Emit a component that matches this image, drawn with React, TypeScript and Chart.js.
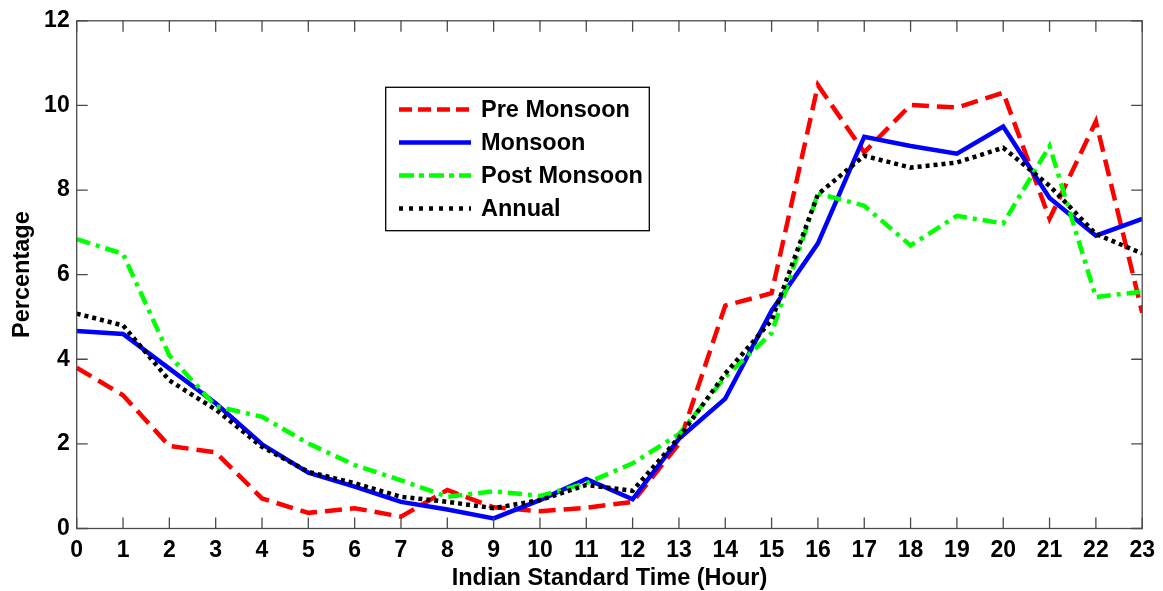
import React, { useEffect, useRef } from "react";
import { Chart, registerables } from "chart.js";

Chart.register(...registerables);

const hours = [0, 1, 2, 3, 4, 5, 6, 7, 8, 9, 10, 11, 12, 13, 14, 15, 16, 17, 18, 19, 20, 21, 22, 23];
const yTicks = [0, 2, 4, 6, 8, 10, 12];

const preMonsoon = [3.8, 3.15, 1.95, 1.8, 0.71, 0.37, 0.48, 0.28, 0.91, 0.5, 0.41, 0.49, 0.63, 2.0, 5.27, 5.56, 10.48, 8.89, 10.01, 9.95, 10.3, 7.32, 9.62, 5.1];
const monsoon = [4.67, 4.6, 3.78, 2.96, 1.99, 1.32, 0.99, 0.63, 0.45, 0.24, 0.67, 1.17, 0.69, 2.12, 3.07, 5.15, 6.74, 9.26, 9.04, 8.86, 9.5, 7.81, 6.92, 7.32];
const postMonsoon = [6.84, 6.49, 4.09, 2.89, 2.64, 2.01, 1.5, 1.14, 0.75, 0.88, 0.77, 1.07, 1.54, 2.23, 3.58, 4.62, 7.92, 7.63, 6.69, 7.39, 7.21, 9.04, 5.47, 5.6];
const annual = [5.08, 4.8, 3.5, 2.81, 1.93, 1.34, 1.07, 0.75, 0.63, 0.48, 0.67, 1.03, 0.89, 2.15, 3.66, 4.92, 7.9, 8.81, 8.53, 8.65, 9.0, 8.1, 6.96, 6.5];

const seriesNames = ["Pre Monsoon", "Monsoon", "Post Monsoon", "Annual"];
const seriesColors = ["#ff0000", "#0000ff", "#00ff00", "#000000"];
const seriesDash: number[][] = [[17, 8], [], [14, 6, 4, 6], [4, 4]];
const legendDash: number[][] = [[13, 6], [], [15, 5, 5, 5], [4, 6]];
const seriesWidth = [4.5, 4.5, 4.5, 4.5];

const FONT = "Arial, 'Liberation Sans', sans-serif";

const boxPlugin = {
  id: "boxAndLegend",
  afterDatasetsDraw(chart: any) {
    const { ctx, chartArea } = chart;
    const { left, right, top, bottom } = chartArea;
    const xs = chart.scales.x;
    const ys = chart.scales.y;
    ctx.save();
    ctx.strokeStyle = "#4a4a4a";
    ctx.lineWidth = 1.3;
    ctx.setLineDash([]);
    ctx.strokeRect(left, top, right - left, bottom - top);
    const tl = 11;
    ctx.beginPath();
    hours.forEach((h) => {
      const px = xs.getPixelForValue(h);
      ctx.moveTo(px, bottom);
      ctx.lineTo(px, bottom - tl);
      ctx.moveTo(px, top);
      ctx.lineTo(px, top + tl);
    });
    yTicks.forEach((v) => {
      const py = ys.getPixelForValue(v);
      ctx.moveTo(left, py);
      ctx.lineTo(left + tl, py);
      ctx.moveTo(right, py);
      ctx.lineTo(right - tl, py);
    });
    ctx.stroke();

    // legend
    const lx = 385.7, ly = 87.3, lw = 263.6, lh = 143.4;
    ctx.fillStyle = "#ffffff";
    ctx.fillRect(lx, ly, lw, lh);
    ctx.strokeStyle = "#000000";
    ctx.lineWidth = 1.3;
    ctx.strokeRect(lx, ly, lw, lh);
    ctx.font = `bold 23.5px ${FONT}`;
    ctx.textBaseline = "middle";
    ctx.textAlign = "left";
    seriesNames.forEach((name, i) => {
      const yy = 109.5 + i * 33;
      ctx.beginPath();
      ctx.strokeStyle = seriesColors[i];
      ctx.lineWidth = seriesWidth[i];
      ctx.setLineDash(legendDash[i]);
      ctx.moveTo(399, yy);
      ctx.lineTo(471, yy);
      ctx.stroke();
      ctx.setLineDash([]);
      ctx.fillStyle = "#000000";
      ctx.fillText(name, 481, yy + 1);
    });
    ctx.restore();
  },
};

export default function App() {
  const ref = useRef<HTMLCanvasElement>(null);

  useEffect(() => {
    document.body.style.margin = "0";
    const allSeries = [preMonsoon, monsoon, postMonsoon, annual];
    const chart = new Chart(ref.current as HTMLCanvasElement, {
      type: "line",
      data: {
        datasets: allSeries.map((vals, i) => ({
          label: seriesNames[i],
          data: hours.map((h, j) => ({ x: h, y: vals[j] })),
          borderColor: seriesColors[i],
          backgroundColor: seriesColors[i],
          borderWidth: seriesWidth[i],
          borderDash: seriesDash[i],
          borderCapStyle: "butt",
          borderJoinStyle: "miter",
          pointRadius: 0,
          tension: 0,
          fill: false,
          order: 4 - i,
        })),
      },
      options: {
        animation: false,
        responsive: false,
        maintainAspectRatio: false,
        layout: { padding: { top: 20, right: 20, left: 0, bottom: 0 } },
        plugins: {
          legend: { display: false },
          tooltip: { enabled: false },
        },
        scales: {
          x: {
            type: "linear",
            min: 0,
            max: 23,
            grid: { display: false, drawTicks: false },
            border: { display: false },
            afterFit: (s: any) => {
              s.height = 62.5;
            },
            ticks: {
              stepSize: 1,
              autoSkip: false,
              maxRotation: 0,
              padding: 8,
              color: "#000",
              font: { family: FONT, size: 23, weight: "bold" },
            },
            title: {
              display: true,
              text: "Indian Standard Time (Hour)",
              color: "#000",
              font: { family: FONT, size: 23.5, weight: "bold" },
              padding: { top: 0, bottom: -2 },
            },
          },
          y: {
            min: 0,
            max: 12,
            grid: { display: false, drawTicks: false },
            border: { display: false },
            afterFit: (s: any) => {
              s.width = 76.7;
            },
            ticks: {
              stepSize: 2,
              padding: 7,
              color: "#000",
              font: { family: FONT, size: 23, weight: "bold" },
            },
            title: {
              display: true,
              text: "Percentage",
              color: "#000",
              font: { family: FONT, size: 23.5, weight: "bold" },
              padding: { top: 8, bottom: 0 },
            },
          },
        },
      },
      plugins: [boxPlugin],
    } as any);
    return () => chart.destroy();
  }, []);

  return (
    <div style={{ position: "absolute", left: 0, top: 0, width: 1163, height: 591, background: "#fff" }}>
      <canvas ref={ref} width={1163} height={591} style={{ display: "block" }} />
    </div>
  );
}
